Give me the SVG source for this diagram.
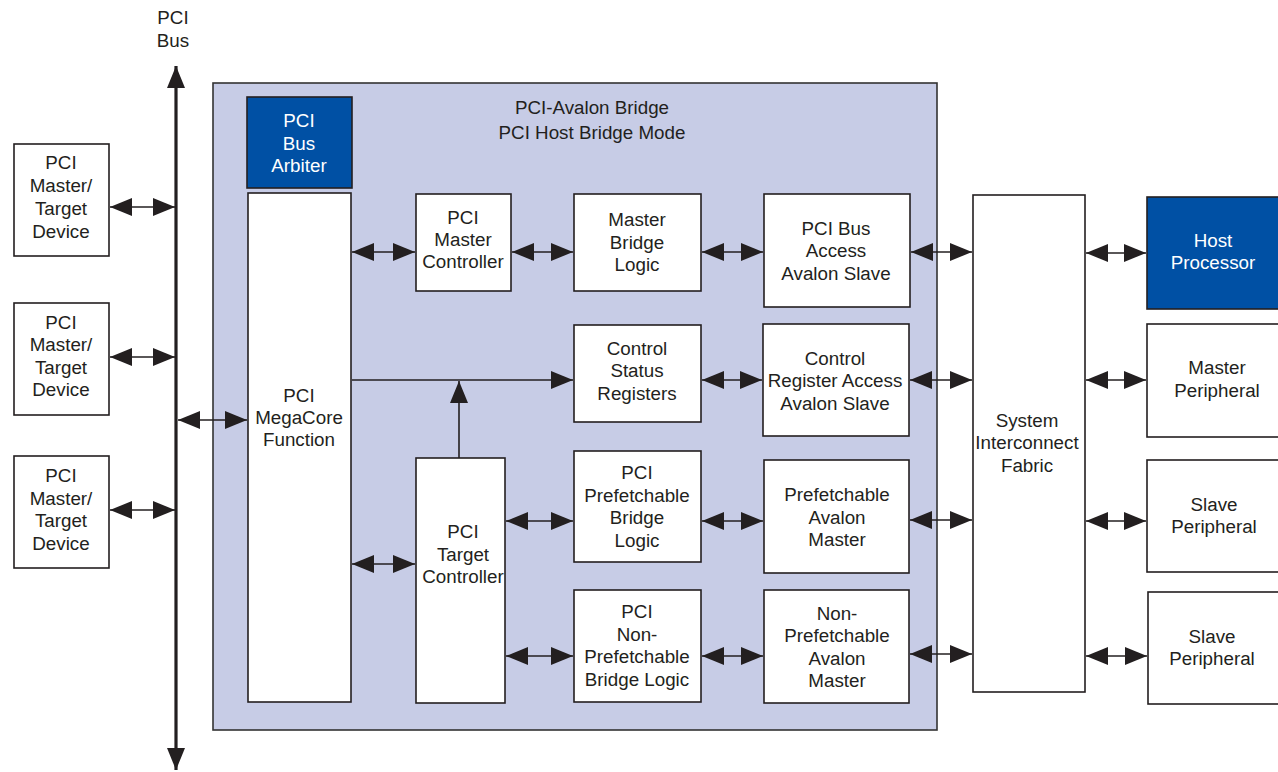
<svg xmlns="http://www.w3.org/2000/svg" width="1278" height="772" viewBox="0 0 1278 772">
<defs>
<marker id="ah" markerUnits="userSpaceOnUse" markerWidth="22" markerHeight="18" refX="22" refY="9" orient="auto-start-reverse" viewBox="0 0 22 18">
<path d="M0,0 L22,9 L0,18 z" fill="#231f20"/>
</marker>
<style>
.box{fill:#ffffff;stroke:#231f20;stroke-width:1.6}
.blue{fill:#0050a4;stroke:#231f20;stroke-width:1.6}
.frame{fill:#c7cce6;stroke:#333333;stroke-width:1.6}
text{font-family:"Liberation Sans",Arial,sans-serif;font-size:18.8px;fill:#231f20;text-anchor:middle}
.w{fill:#ffffff}
.c{stroke:#231f20;stroke-width:1.6;fill:none}
.dbl{marker-start:url(#ah);marker-end:url(#ah)}
.one{marker-end:url(#ah)}
</style>
</defs>
<rect width="1278" height="772" fill="#ffffff"/>

<g id="bridge">
<rect class="frame" x="213" y="83" width="724" height="647"/>
<text x="592" y="114">PCI-Avalon Bridge</text>
<text x="592" y="139">PCI Host Bridge Mode</text>
</g>

<g id="bus-label">
<text x="173" y="24">PCI</text>
<text x="173" y="47">Bus</text>
</g>

<g id="dev1"><rect class="box" x="14" y="144" width="95" height="112"/>
<text x="61" y="169">PCI</text><text x="61" y="192">Master/</text><text x="61" y="215">Target</text><text x="61" y="238">Device</text></g>
<g id="dev2"><rect class="box" x="14" y="303" width="95" height="112"/>
<text x="61" y="329">PCI</text><text x="61" y="351">Master/</text><text x="61" y="374">Target</text><text x="61" y="396">Device</text></g>
<g id="dev3"><rect class="box" x="14" y="456" width="95" height="112"/>
<text x="61" y="482">PCI</text><text x="61" y="505">Master/</text><text x="61" y="527">Target</text><text x="61" y="550">Device</text></g>

<g id="arbiter"><rect class="blue" x="247" y="97" width="105" height="91"/>
<text class="w" x="299" y="127">PCI</text><text class="w" x="299" y="150">Bus</text><text class="w" x="299" y="172">Arbiter</text></g>

<g id="megacore"><rect class="box" x="248" y="193" width="103" height="509"/>
<text x="299" y="402">PCI</text><text x="299" y="424">MegaCore</text><text x="299" y="446">Function</text></g>

<g id="master-ctrl"><rect class="box" x="416" y="194" width="95" height="97"/>
<text x="463" y="224">PCI</text><text x="463" y="246">Master</text><text x="463" y="268">Controller</text></g>

<g id="master-bridge"><rect class="box" x="574" y="194" width="127" height="97"/>
<text x="637" y="226">Master</text><text x="637" y="249">Bridge</text><text x="637" y="271">Logic</text></g>

<g id="bus-access"><rect class="box" x="764" y="194" width="146" height="113"/>
<text x="836" y="235">PCI Bus</text><text x="836" y="257">Access</text><text x="836" y="280">Avalon Slave</text></g>

<g id="csr"><rect class="box" x="574" y="325" width="127" height="97"/>
<text x="637" y="355">Control</text><text x="637" y="377">Status</text><text x="637" y="400">Registers</text></g>

<g id="cra"><rect class="box" x="763" y="324" width="146" height="112"/>
<text x="835" y="365">Control</text><text x="835" y="387">Register Access</text><text x="835" y="410">Avalon Slave</text></g>

<g id="target-ctrl"><rect class="box" x="416" y="458" width="89" height="245"/>
<text x="463" y="538">PCI</text><text x="463" y="561">Target</text><text x="463" y="583">Controller</text></g>

<g id="pref-bridge"><rect class="box" x="574" y="451" width="127" height="111"/>
<text x="637" y="479">PCI</text><text x="637" y="502">Prefetchable</text><text x="637" y="524">Bridge</text><text x="637" y="547">Logic</text></g>

<g id="pref-master"><rect class="box" x="764" y="460" width="145" height="113"/>
<text x="837" y="501">Prefetchable</text><text x="837" y="524">Avalon</text><text x="837" y="546">Master</text></g>

<g id="nonpref-bridge"><rect class="box" x="574" y="590" width="127" height="112"/>
<text x="637" y="618">PCI</text><text x="637" y="641">Non-</text><text x="637" y="663">Prefetchable</text><text x="637" y="686">Bridge Logic</text></g>

<g id="nonpref-master"><rect class="box" x="764" y="590" width="145" height="113"/>
<text x="837" y="620">Non-</text><text x="837" y="642">Prefetchable</text><text x="837" y="665">Avalon</text><text x="837" y="687">Master</text></g>

<g id="fabric"><rect class="box" x="973" y="195" width="112" height="497"/>
<text x="1027" y="427">System</text><text x="1027" y="449">Interconnect</text><text x="1027" y="472">Fabric</text></g>

<g id="host"><rect class="blue" x="1147" y="197" width="135" height="112"/>
<text class="w" x="1213" y="247">Host</text><text class="w" x="1213" y="269">Processor</text></g>

<g id="master-periph"><rect class="box" x="1147" y="324" width="135" height="113"/>
<text x="1217" y="374">Master</text><text x="1217" y="397">Peripheral</text></g>

<g id="slave-periph1"><rect class="box" x="1147" y="460" width="135" height="112"/>
<text x="1214" y="511">Slave</text><text x="1214" y="533">Peripheral</text></g>

<g id="slave-periph2"><rect class="box" x="1148" y="592" width="135" height="112"/>
<text x="1212" y="643">Slave</text><text x="1212" y="665">Peripheral</text></g>

<g id="connectors">
<line class="dbl" x1="176" y1="66" x2="176" y2="770" stroke="#231f20" stroke-width="3.2"/>
<line class="c dbl" x1="110" y1="207" x2="175" y2="207"/>
<line class="c dbl" x1="110" y1="357" x2="175" y2="357"/>
<line class="c dbl" x1="110" y1="510" x2="175" y2="510"/>
<line class="c dbl" x1="178" y1="420" x2="247" y2="420"/>

<line class="c dbl" x1="352" y1="252" x2="415" y2="252"/>
<line class="c dbl" x1="512" y1="252" x2="573" y2="252"/>
<line class="c dbl" x1="702" y1="252" x2="763" y2="252"/>
<line class="c dbl" x1="911" y1="252" x2="972" y2="252"/>
<line class="c dbl" x1="1086" y1="253" x2="1146" y2="253"/>

<line class="c one" x1="352" y1="380" x2="573" y2="380"/>
<line class="c one" x1="459" y1="458" x2="459" y2="381"/>
<line class="c dbl" x1="702" y1="380" x2="762" y2="380"/>
<line class="c dbl" x1="910" y1="380" x2="972" y2="380"/>
<line class="c dbl" x1="1086" y1="380" x2="1146" y2="380"/>

<line class="c dbl" x1="352" y1="564" x2="415" y2="564"/>
<line class="c dbl" x1="506" y1="521" x2="573" y2="521"/>
<line class="c dbl" x1="702" y1="521" x2="763" y2="521"/>
<line class="c dbl" x1="910" y1="520" x2="972" y2="520"/>
<line class="c dbl" x1="1086" y1="521" x2="1146" y2="521"/>

<line class="c dbl" x1="506" y1="656" x2="573" y2="656"/>
<line class="c dbl" x1="702" y1="656" x2="763" y2="656"/>
<line class="c dbl" x1="910" y1="654" x2="972" y2="654"/>
<line class="c dbl" x1="1086" y1="656" x2="1147" y2="656"/>
</g>
</svg>
